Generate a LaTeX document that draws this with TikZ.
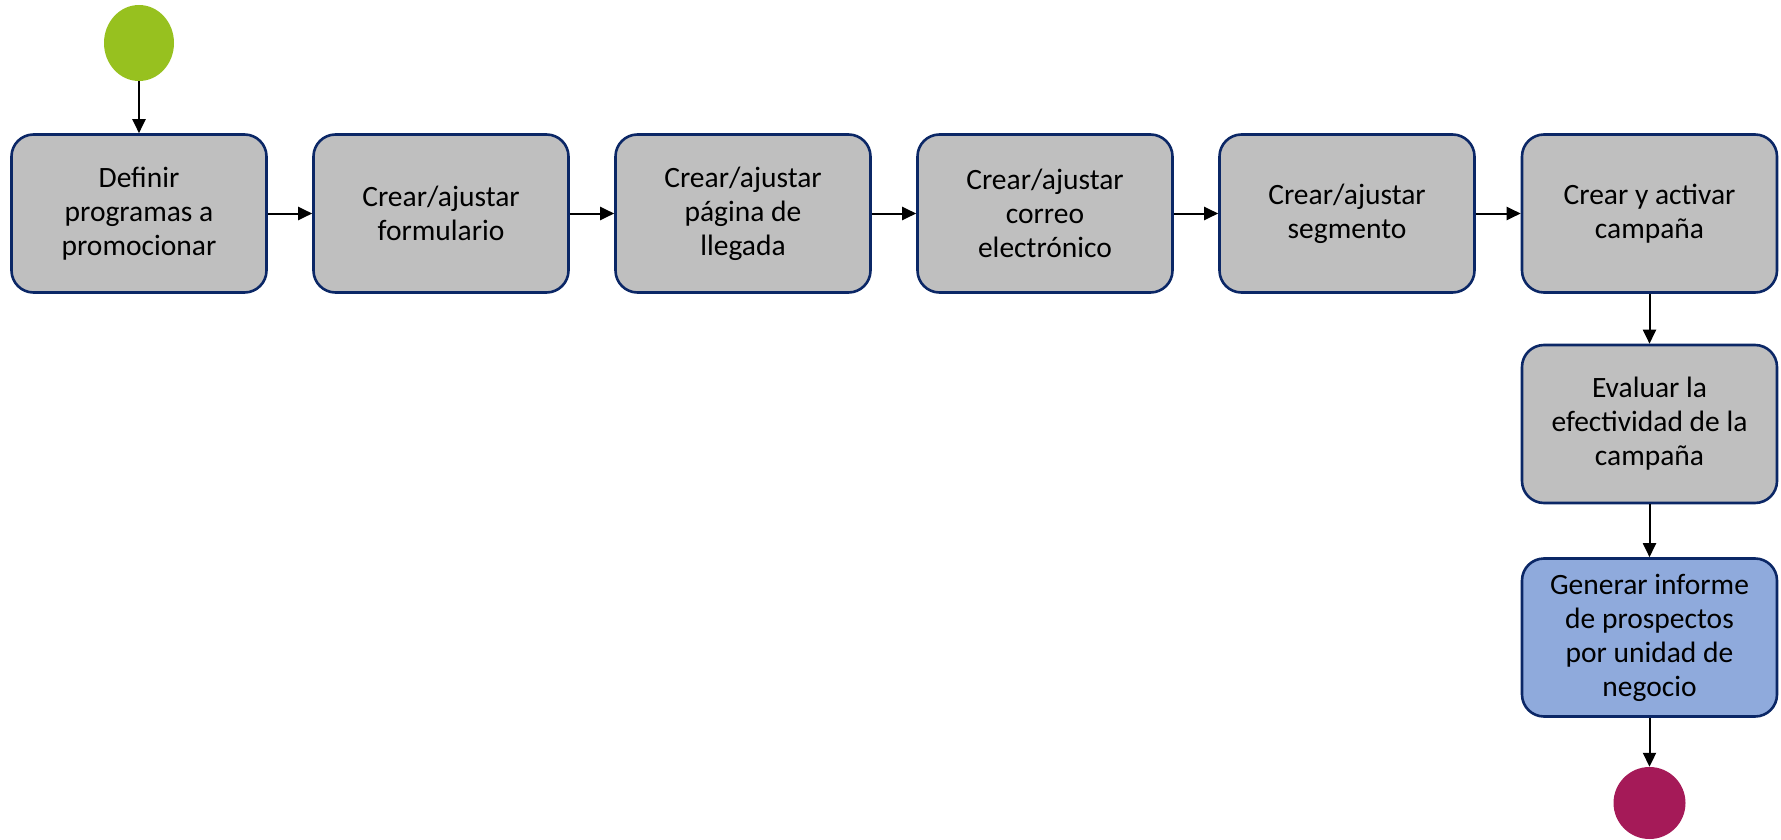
\documentclass[tikz,border=0pt]{standalone}
\usepackage{fontspec}
\setmainfont{Carlito}
\usetikzlibrary{arrows.meta,shapes.geometric}
\definecolor{boxgray}{HTML}{BFBFBF}
\definecolor{boxblue}{HTML}{8FAADC}
\definecolor{navy}{HTML}{0B2766}
\definecolor{startgreen}{HTML}{97C11F}
\definecolor{endred}{HTML}{A51A58}
\begin{document}
\begin{tikzpicture}[x=1pt,y=-1pt,
  stepbox/.style={draw=navy, line width=2.6pt, fill=boxgray, rounded corners=22pt,
    minimum width=255pt, minimum height=158pt, align=center, inner sep=0pt,
    font=\fontsize{29.5}{34}\selectfont},
  bluebox/.style={stepbox, fill=boxblue},
  flow/.style={draw=black, line width=2pt, -{Triangle[length=14pt,width=13pt]}}
]
\useasboundingbox (0,0) rectangle (1781,840);
\node[ellipse, fill=startgreen, minimum width=70pt, minimum height=76pt, inner sep=0pt] (start) at (139,43) {};
\node[stepbox] (b1) at (139,213.5) {Definir\\programas a\\promocionar};
\node[stepbox] (b2) at (441,213.5) {Crear/ajustar\\formulario};
\node[stepbox] (b3) at (743,213.5) {Crear/ajustar\\página de\\llegada};
\node[stepbox] (b4) at (1045,213.5) {Crear/ajustar\\correo\\electrónico};
\node[stepbox] (b5) at (1347,213.5) {Crear/ajustar\\segmento};
\node[stepbox] (b6) at (1649.5,213.5) {Crear y activar\\campaña};
\node[stepbox] (b7) at (1649.5,424) {Evaluar la\\efectividad de la\\campaña};
\node[bluebox] (b8) at (1649.5,637.5) {Generar informe\\de prospectos\\por unidad de\\negocio};
\node[circle, fill=endred, minimum size=72pt, inner sep=0pt] (stop) at (1649.5,803) {};
\draw[flow] (start) -- (b1);
\draw[flow] (b1) -- (b2);
\draw[flow] (b2) -- (b3);
\draw[flow] (b3) -- (b4);
\draw[flow] (b4) -- (b5);
\draw[flow] (b5) -- (b6);
\draw[flow] (b6) -- (b7);
\draw[flow] (b7) -- (b8);
\draw[flow] (b8) -- (stop);
\end{tikzpicture}
\end{document}
